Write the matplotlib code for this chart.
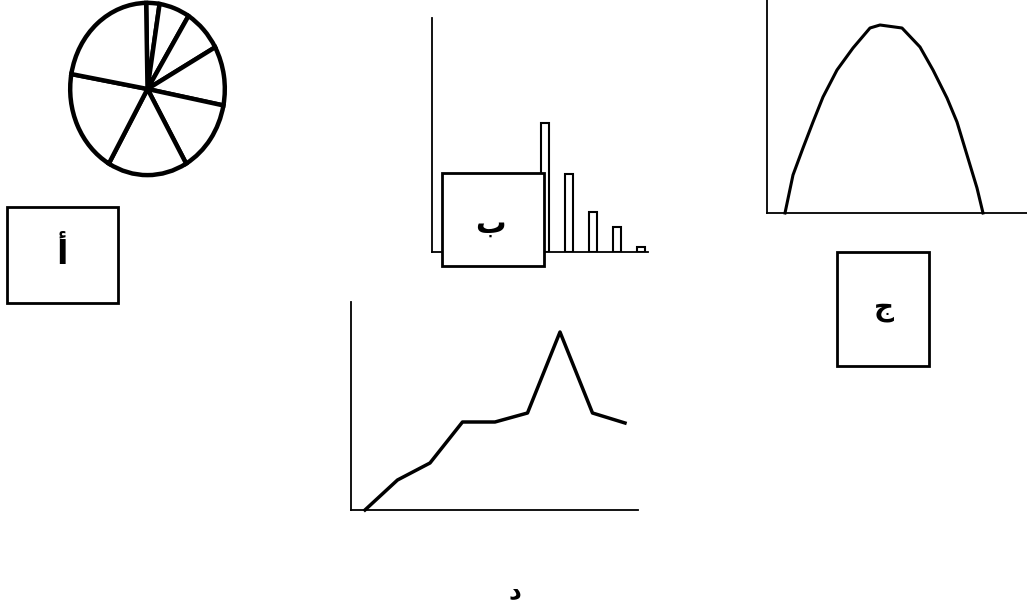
import matplotlib.pyplot as plt
from matplotlib.patches import Rectangle

W, H = 1027, 611

# pie (أ)
pie_sizes = [10, 23, 29, 40, 49, 60, 70, 79]

# bars (ب) - only the bars not hidden by the label box
bar_pos = [0, 1, 2, 3, 4]
bar_heights = [129, 78, 40, 25, 5]

# hump curve (ج)
curve_x = [18, 26, 36, 46, 56, 70, 86, 103, 113, 135, 153, 166, 180, 190, 200, 210, 216]
curve_y = [0, 38, 65, 91, 116, 143, 165, 185, 188, 185, 166, 143, 115, 91, 58, 25, 0]

# line (د)
line_x = [0, 1, 2, 3, 4, 5, 6, 7, 8]
line_y = [0, 30, 47, 88, 88, 97, 178, 97, 87]

labels = ['أ', 'ب', 'ج', 'د']


def px_axes(fig, x0, y0, x1, y1):
    """axes placed by pixel box (top-left origin)"""
    return fig.add_axes([x0 / W, 1 - y1 / H, (x1 - x0) / W, (y1 - y0) / H])


def bare(ax):
    ax.set_xticks([])
    ax.set_yticks([])
    for s in ['top', 'right']:
        ax.spines[s].set_visible(False)
    for s in ['left', 'bottom']:
        ax.spines[s].set_linewidth(1.3)
    ax.patch.set_alpha(0)


fig = plt.figure(figsize=(W / 100, H / 100), dpi=100)

# pie
ax = px_axes(fig, 64, -4, 231, 182)
wedges, _ = ax.pie(pie_sizes, startangle=91, counterclock=False,
                   colors=['white'] * len(pie_sizes),
                   wedgeprops=dict(edgecolor='black', linewidth=3.2))
for w in wedges:
    w.set_clip_on(False)
ax.set_aspect('auto')
ax.set_xlim(-1.08, 1.08)
ax.set_ylim(-1.08, 1.08)
ax.axis('off')

# bars
ax = px_axes(fig, 432, 18, 648, 252)
ax.bar(bar_pos, bar_heights, width=0.33, color='white', edgecolor='black', linewidth=1.5)
ax.set_xlim(-4.69, 4.31)
ax.set_ylim(0, 234)
bare(ax)

# curve
ax = px_axes(fig, 767, 0, 1027, 213)
ax.plot(curve_x, curve_y, color='black', linewidth=2.2, clip_on=False,
        solid_joinstyle='round')
ax.set_xlim(0, 260)
ax.set_ylim(0, 213)
bare(ax)

# line
ax = px_axes(fig, 351, 302, 638, 510)
ax.plot(line_x, line_y, color='black', linewidth=2.5, clip_on=False)
ax.set_xlim(-0.43, 8.4)
ax.set_ylim(0, 208)
bare(ax)

# label boxes on top
ov = fig.add_axes([0, 0, 1, 1], zorder=10)
ov.set_xlim(0, W)
ov.set_ylim(H, 0)
ov.axis('off')
ov.patch.set_alpha(0)

boxes = [(7, 207, 118, 303), (442, 173, 544, 266), (837, 252, 929, 366)]
for (x0, y0, x1, y1) in boxes:
    ov.add_patch(Rectangle((x0, y0), x1 - x0, y1 - y0, facecolor='white',
                           edgecolor='black', linewidth=2))

ov.text(62, 255, labels[0], fontsize=24, fontweight='bold', ha='center', va='center')
ov.text(490, 224, labels[1], fontsize=22, fontweight='bold', ha='center', va='center')
ov.text(884, 308, labels[2], fontsize=20, fontweight='bold', ha='center', va='center')
ov.text(515, 592, labels[3], fontsize=18, fontweight='bold', ha='center', va='center')

plt.savefig('out.png', dpi=100)
